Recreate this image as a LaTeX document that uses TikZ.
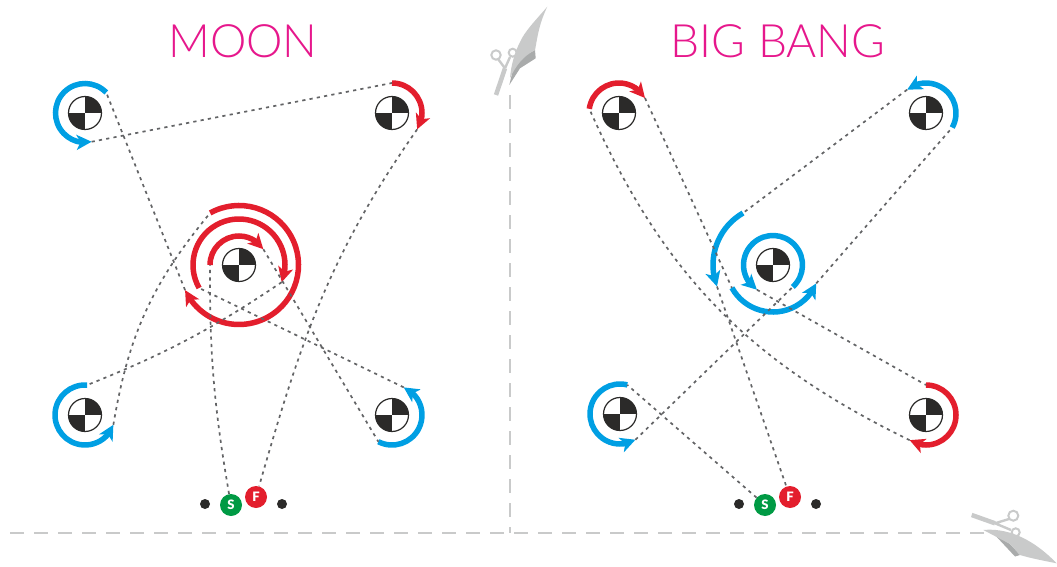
\documentclass[tikz,border=0pt]{standalone}
\usepackage{fontspec}
\usetikzlibrary{arrows.meta,bending}
\newfontfamily\titlefont{Lato Light}
\newfontfamily\markfont{Lato Black}
\definecolor{ink}{HTML}{2B2A29}
\definecolor{trail}{HTML}{636466}
\definecolor{cutline}{HTML}{C9CACA}
\definecolor{cutdark}{HTML}{A9ABAB}
\definecolor{skyblue}{HTML}{009FE3}
\definecolor{hotred}{HTML}{E31E2D}
\definecolor{leaf}{HTML}{009A44}
\definecolor{pink}{HTML}{E6178C}
\tikzset{
  puck/.style={circle,draw=ink,line width=1.2pt,fill=white,minimum size=33pt,inner sep=0pt,
    path picture={
      \fill[ink] (path picture bounding box.center) rectangle (path picture bounding box.north east);
      \fill[ink] (path picture bounding box.center) rectangle (path picture bounding box.south west);}},
  bluearc/.style={-{Stealth[length=15pt,width=15pt,inset=4pt]},draw=skyblue,line width=5.5pt},
  redarc/.style={-{Stealth[length=15pt,width=15pt,inset=4pt]},draw=hotred,line width=5.5pt},
  trailline/.style={draw=trail,line width=1.7pt,dash pattern=on 3.2pt off 4.2pt},
  cut/.style={draw=cutline,line width=2pt,dash pattern=on 14pt off 10pt},
  title/.style={text=pink,font=\titlefont\fontsize{46}{46}\selectfont},
  dotnode/.style={circle,fill=ink,minimum size=10pt,inner sep=0pt},
  marknode/.style={circle,text=white,minimum size=22pt,inner sep=0pt,font=\markfont\fontsize{13}{13}\selectfont},
}
% style, centre, start angle, end angle, radius, name of the two ends
\newcommand{\turnarc}[6]{
  \draw[#1] ([shift={(#3:#5pt)}]#2.center) coordinate (#6s)
    arc[start angle=#3,end angle=#4,radius=#5pt] coordinate (#6e);
}
\begin{document}
\begin{tikzpicture}[>=stealth,x=1pt,y=1pt]
  \useasboundingbox (0,0) rectangle (1057,566);

  % cut lines
  \coordinate (cuttop) at (510,471);
  \coordinate (cutknee) at (510,33);
  \coordinate (cutleft) at (10,33);
  \coordinate (cutright) at (985,33);
  \draw[cut] (cuttop) -- (cutknee);
  \draw[cut] (cutleft) -- (cutright);

  % scissors, top
  \draw[cutline,line width=2pt] (496,511) circle (4.7) (512.7,513.3) circle (4);
  \draw[cutline,line width=4.5pt] (496,471) -- (505,497.7);
  \draw[cutline,line width=2.4pt] (505,497.7) -- (498,507) (505,497.7) -- (510,509);
  \fill[cutdark] (509.3,481) -- (520,497.7) -- (535.7,507.7) -- (535,516) -- (515,505) -- cycle;
  \fill[cutline] (547.3,559.3) .. controls (535,545) and (525,535) .. (520,524)
    .. controls (514,512) and (511,500) .. (510,488)
    .. controls (516,500) and (522,509) .. (535,516)
    .. controls (537,525) and (538,540) .. (547.3,559.3);

  % scissors, bottom
  \draw[cutline,line width=2pt] (1013.3,50.3) circle (5) (1015.7,33.7) circle (4);
  \draw[cutline,line width=4.5pt] (971.7,51) -- (995,42.7);
  \draw[cutline,line width=2.4pt] (995,42.7) -- (1009,47) (995,42.7) -- (1011,36);
  \fill[cutdark] (993,33) -- (1015,9.5) -- (1020,11) -- (1010,22) -- cycle;
  \fill[cutline] (983.3,36) .. controls (1005,38) and (1030,30) .. (1056.7,2.7)
    .. controls (1040,6) and (1030,8) .. (1020,11) -- (1010,22) -- cycle;

  \node[title] (moon) at (243,525) {MOON};
  \node[title] (bang) at (778,525) {BIG BANG};

  \foreach \name/\x/\y in {la/85/453,lb/392/453,lc/239/301,ld/85/151,le/392/151,
                           ra/619/453,rb/926/453,rc/773/301,rd/620/152,re/926/151}
  {
    \node[puck] (\name) at (\x,\y) {};
  }

  % moon
  \turnarc{bluearc}{la}{44}{283}{29.5}{la}
  \turnarc{redarc}{lb}{90}{-33}{30}{lb}
  \turnarc{bluearc}{ld}{86}{341}{30}{ld}
  \turnarc{bluearc}{le}{-117}{67}{30}{le}
  \turnarc{redarc}{lc}{180}{33}{29}{li}
  \turnarc{redarc}{lc}{210}{-22}{46}{lm}
  \turnarc{redarc}{lc}{119}{-155}{59.5}{lo}

  \node[dotnode] (ldota) at (205,62) {};
  \node[dotnode] (ldotb) at (282,62) {};
  \node[marknode,fill=leaf] (ls) at (231,61) {S};
  \node[marknode,fill=hotred] (lf) at (256,69) {F};

  \draw[trailline] (ls) to[bend left=5] (lis);
  \draw[trailline] (lie) -- (les);
  \draw[trailline] (lee) -- (lms);
  \draw[trailline] (lme) to[bend left=6] (lds);
  \draw[trailline] (lde) to[bend left=15] (los);
  \draw[trailline] (loe) -- (las);
  \draw[trailline] (lae) -- (lbs);
  \draw[trailline] (lbe) to[out=235,in=74] (lf);

  % big bang
  \turnarc{redarc}{ra}{172}{30}{30}{ra}
  \turnarc{bluearc}{rb}{-29}{129}{30}{rb}
  \turnarc{bluearc}{rd}{76}{301}{30}{rd}
  \turnarc{redarc}{re}{90}{-123}{30}{re}
  \turnarc{bluearc}{rc}{-48}{237}{29.5}{ri}
  \turnarc{bluearc}{rc}{209}{337}{47}{rm}
  \turnarc{bluearc}{rc}{120}{201}{60}{ro}

  \node[dotnode] (rdota) at (739,62) {};
  \node[dotnode] (rdotb) at (816,62) {};
  \node[marknode,fill=leaf] (rs) at (765,61) {S};
  \node[marknode,fill=hotred] (rf) at (790,69) {F};

  \draw[trailline] (rs) -- (rds);
  \draw[trailline] (rde) -- (ris);
  \draw[trailline] (rie) -- (res);
  \draw[trailline] (ree) to[bend left=20] (ras);
  \draw[trailline] (rae) -- (rms);
  \draw[trailline] (rme) -- (rbs);
  \draw[trailline] (rbe) -- (ros);
  \draw[trailline] (roe) -- (rf);
\end{tikzpicture}
\end{document}
